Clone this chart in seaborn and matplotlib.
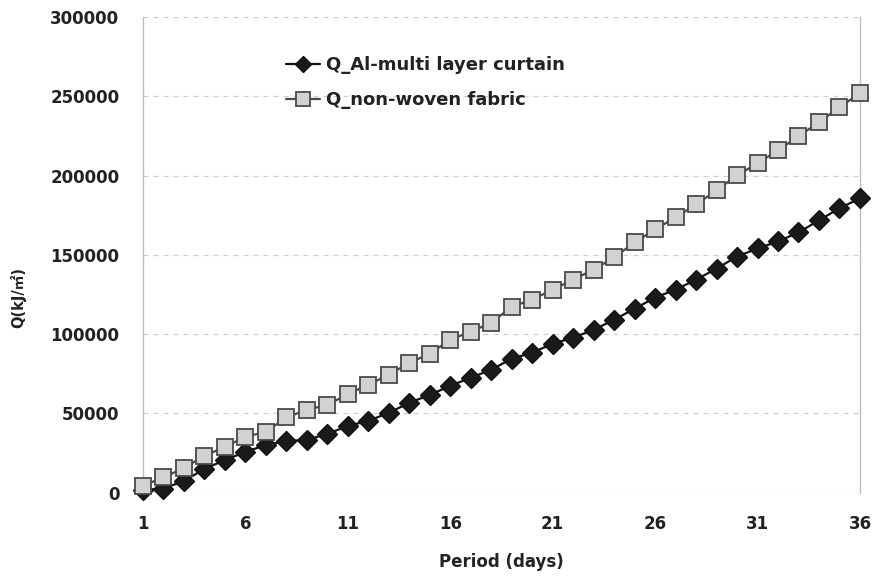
import matplotlib
matplotlib.use("Agg")
import matplotlib.pyplot as plt
import seaborn as sns
import pandas as pd

# Heat quantity per day for the two curtain materials
days = list(range(1, 37))
q_al_multi = [1500, 2500, 7300, 14900, 20500, 25600, 30000, 32500, 33200, 37000,
              42000, 45200, 50300, 56600, 61600, 67300, 72400, 77500, 84400, 88200,
              93900, 97700, 102700, 109000, 116000, 123000, 128000, 134300, 141300, 148900,
              154000, 158400, 164100, 171700, 179300, 185600]
q_nonwoven = [4400, 9500, 15500, 23100, 28800, 35100, 38300, 47400, 52200, 55300,
              62000, 68000, 74300, 81900, 87500, 96400, 101500, 107100, 117200, 121700,
              128000, 134300, 140700, 148300, 157800, 166000, 173600, 181800, 190600, 200100,
              207700, 215900, 224800, 233600, 243100, 251900]
series_names = ["Q_Al-multi layer curtain", "Q_non-woven fabric"]
x_ticks = [1, 6, 11, 16, 21, 26, 31, 36]
y_ticks = [0, 50000, 100000, 150000, 200000, 250000, 300000]

df_al = pd.DataFrame({"day": days, "Q": q_al_multi, "series": series_names[0]})
df_nw = pd.DataFrame({"day": days, "Q": q_nonwoven, "series": series_names[1]})

sns.set_theme(style="white")
plt.rcParams["font.family"] = ["DejaVu Sans", "Noto Sans CJK KR"]
plt.rcParams["font.weight"] = "bold"

fig = plt.figure(figsize=(8.75, 5.77), dpi=100)
ax = fig.add_axes([0.1634, 0.1464, 0.8194, 0.8241])

sns.lineplot(data=df_al, x="day", y="Q", ax=ax, color="#111111", linewidth=1.6,
             marker="D", markersize=10, markerfacecolor="#1a1a1a",
             markeredgecolor="#111111", markeredgewidth=1.0,
             label=series_names[0], clip_on=False, zorder=3)
sns.lineplot(data=df_nw, x="day", y="Q", ax=ax, color="#4a4a4a", linewidth=1.6,
             marker="s", markersize=12, markerfacecolor="#d2d2d2",
             markeredgecolor="#4a4a4a", markeredgewidth=1.3,
             label=series_names[1], clip_on=False, zorder=4)

ax.set_xlim(1, 36)
ax.set_ylim(0, 300000)
ax.set_xticks(x_ticks)
ax.set_yticks(y_ticks)
ax.set_xticklabels([str(t) for t in x_ticks])
ax.set_yticklabels([str(t) for t in y_ticks])
ax.tick_params(axis="both", length=0, labelsize=12, colors="#222222")
ax.tick_params(axis="x", pad=16.5)
ax.tick_params(axis="y", pad=17)

# Dashed horizontal grid, light frame on the sides
ax.yaxis.grid(True, color="#cfcfcf", linestyle=(0, (4, 4)), linewidth=0.9)
ax.xaxis.grid(False)
ax.set_axisbelow(True)
for side in ("top", "bottom"):
    ax.spines[side].set_visible(False)
for side in ("left", "right"):
    ax.spines[side].set_color("#bdbdbd")
    ax.spines[side].set_linewidth(1.0)

ax.set_xlabel("Period (days)", fontsize=12, fontweight="bold", color="#222222")
ax.set_ylabel("Q(kJ/㎡)", fontsize=10.5, fontweight="bold", color="#222222")
ax.xaxis.set_label_coords(0.5, -0.146)
ax.xaxis.label.set_va("center")
ax.yaxis.set_label_coords(-0.174, 0.411)
ax.yaxis.label.set_va("center")

handles, labels = ax.get_legend_handles_labels()
order = [labels.index(n) for n in series_names]
leg = ax.legend([handles[i] for i in order], [labels[i] for i in order],
                loc="upper left", bbox_to_anchor=(0.177, 0.952), frameon=False,
                handlelength=1.9, handletextpad=0.3, labelspacing=0.95,
                markerscale=0.8, prop={"weight": "bold", "size": 13})
for t in leg.get_texts():
    t.set_color("#222222")

fig.savefig("out.png", dpi=100, facecolor="white")
